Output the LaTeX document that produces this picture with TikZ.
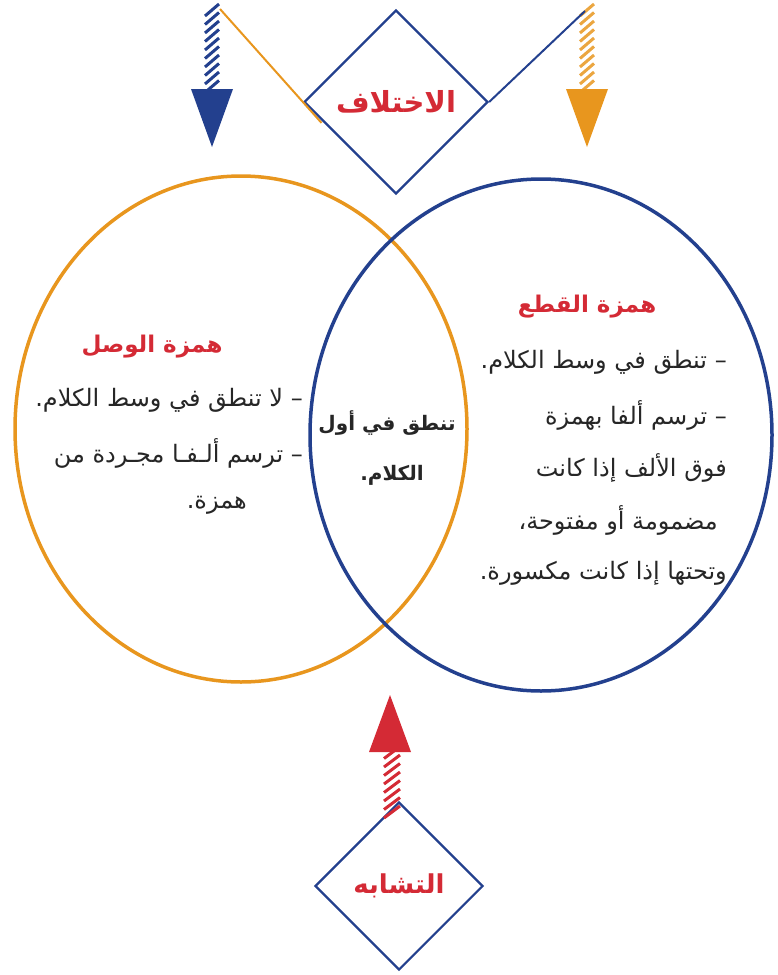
\documentclass[tikz,border=0pt]{standalone}
\usepackage{fontspec}
\newfontfamily\arabicfont[Script=Arabic]{DejaVu Sans}
\TeXXeTstate=1
\usepackage{tikz}
\usetikzlibrary{positioning,shapes.geometric,calc}

\definecolor{vennblue}{HTML}{23408E}
\definecolor{vennorange}{HTML}{E8961E}
\definecolor{vennred}{HTML}{D42A35}

\begin{document}
\begin{tikzpicture}[x=1pt,y=-1pt,
  ring/.style={draw, ellipse, line width=3.5pt, inner sep=0pt},
  kite/.style={draw=vennblue, diamond, aspect=1, line width=2.2pt, inner sep=0pt,
    text=vennred, font=\arabicfont\bfseries\fontsize{29}{32}\selectfont},
  arab/.style={font=\arabicfont\fontsize{24}{26}\selectfont, inner sep=0pt, text=black!85},
  title/.style={font=\arabicfont\bfseries\fontsize{23}{26}\selectfont, inner sep=0pt, text=vennred},
  stroke/.style={line width=3pt},
]

  \useasboundingbox (0,0) rectangle (778,975);

  % the two sets
  \node[ring, draw=vennorange, minimum width=452pt, minimum height=506pt] (wasl) at (241,429) {};
  \node[ring, draw=vennblue, minimum width=462pt, minimum height=512pt] (qate) at (541,435) {};

  % the two labels
  \node[kite, minimum width=184pt, minimum height=184pt] (diff) at (396,102) {\beginR الاختلاف\endR};
  \node[kite, minimum width=168pt, minimum height=168pt, font=\arabicfont\bfseries\fontsize{26}{28}\selectfont] (same) at (399,886) {\beginR التشابه\endR};

  % arrows
  \coordinate (bltop) at (212,4);
  \coordinate (bltip) at (212,147);
  \coordinate (ortop) at (587,4);
  \coordinate (ortip) at (587,147);
  \coordinate (rdtail) at (392,818);
  \coordinate (rdtip) at (390,695);
  \coordinate (blend) at (220,9);
  \coordinate (orend) at (585,11);

  \foreach \k in {0,...,9} {
    \draw[stroke, vennblue] ($(bltop)+(-7,8.5*\k+12)$) -- ++(14,-12);
    \draw[stroke, vennorange!85] ($(ortop)+(-7,8.5*\k+12)$) -- ++(14,-12);
  }
  \foreach \k in {0,...,8}
    \draw[stroke, vennred] ($(rdtail)+(-8,-8.5*\k)$) -- ++(16,-12);

  \fill[vennblue] ($(bltip)+(-21,-58)$) -- ($(bltip)+(21,-58)$) -- (bltip) -- cycle;
  \fill[vennorange] ($(ortip)+(-21,-58)$) -- ($(ortip)+(21,-58)$) -- (ortip) -- cycle;
  \fill[vennred] ($(rdtip)+(-21,57)$) -- ($(rdtip)+(21,57)$) -- (rdtip) -- cycle;

  \draw[vennorange, line width=2pt, shorten >=-28pt] (blend) -- (diff.west);
  \draw[vennblue, line width=2pt] (orend) -- (diff.east);

  % left set
  \node[title] (wt) at (152,347) {\beginR همزة الوصل\endR};
  \node[arab, anchor=east] (w1) at (303,400) {\beginR – لا تنطق في وسط الكلام.\endR};
  \node[arab, anchor=east] (w2) at (303,453) {\beginR – ترسم ألـفـا مجـردة من\endR};
  \node[arab, anchor=east] (w3) at (247,505) {\beginR همزة.\endR};

  % common part
  \node[arab, font=\arabicfont\bfseries\fontsize{20}{22}\selectfont] (c1) at (387,423) {\beginR تنطق في أول\endR};
  \node[arab, font=\arabicfont\bfseries\fontsize{20}{22}\selectfont] (c2) at (392,475) {\beginR الكلام.\endR};

  % right set
  \node[title] (qt) at (587,307) {\beginR همزة القطع\endR};
  \node[arab, anchor=east] (q1) at (727,362) {\beginR – تنطق في وسط الكلام.\endR};
  \node[arab, anchor=east] (q2) at (727,415) {\beginR – ترسم ألفا بهمزة\endR};
  \node[arab, anchor=east] (q3) at (727,468) {\beginR فوق الألف إذا كانت\endR};
  \node[arab, anchor=east] (q4) at (718,520) {\beginR مضمومة أو مفتوحة،\endR};
  \node[arab, anchor=east] (q5) at (727,573) {\beginR وتحتها إذا كانت مكسورة.\endR};

\end{tikzpicture}
\end{document}
